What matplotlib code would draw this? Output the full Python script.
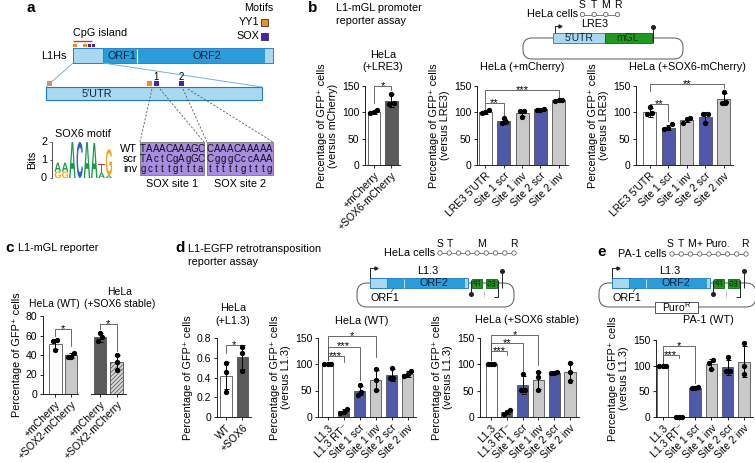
import numpy as np
import matplotlib
matplotlib.use('Agg')
import matplotlib.pyplot as plt
from matplotlib.patches import Rectangle, FancyBboxPatch, Circle, PathPatch
from matplotlib.textpath import TextPath
from matplotlib.font_manager import FontProperties
from matplotlib.path import Path

plt.rcParams['font.family'] = ['Liberation Sans', 'DejaVu Sans']
plt.rcParams['hatch.linewidth'] = 0.5
plt.rcParams['axes.linewidth'] = 0.6

# ---- colours
WHITE, DGRAY, LGRAY, BLUE = '#ffffff', '#5a5a5a', '#c9c9c9', '#5059a9'
L1BLUE, L1LIGHT, L1EDGE = '#2a9dd8', '#a9d9f1', '#1f78c8'
ORANGE, PURPLE, SEQBOX, GREEN = '#f28c1e', '#4a1fb8', '#a98de3', '#1f9a1f'

# ---- data
constructs = ['LRE3 5\u2032UTR', 'Site 1 scr', 'Site 1 inv', 'Site 2 scr', 'Site 2 inv']
l13_constructs = ['L1.3', 'L1.3 RT\u207b', 'Site 1 scr', 'Site 1 inv', 'Site 2 scr', 'Site 2 inv']

b1_labels = ['+mCherry', '+SOX6-mCherry']
b1_mean = [100, 122]
b1_sd = [3, 12]
b1_pts = [[98, 104, 100], [135, 118, 116]]

b2_mean = [100, 83, 99, 106, 123]
b2_sd = [3, 5, 6, 2, 1.5]
b2_pts = [[104, 99, 100], [90, 79, 81], [103, 103, 91], [107, 105, 105], [124, 124, 122]]

b3_mean = [100, 71, 85, 91, 125]
b3_sd = [8, 5, 4, 9, 12]
b3_pts = [[111, 97, 98], [77, 70, 68], [89, 87, 80], [96, 97, 80], [139, 119, 117]]

c_labels = ['+mCherry', '+SOX2-mCherry']
c1_mean = [51.5, 39.5]
c1_sd = [5, 2.5]
c1_pts = [[55, 54, 45], [42, 38, 38]]
c2_mean = [58, 33]
c2_sd = [5, 7]
c2_pts = [[63, 58, 54], [40, 33, 25]]

d1_labels = ['WT', '+SOX6']
d1_mean = [0.42, 0.61]
d1_sd = [0.14, 0.12]
d1_pts = [[0.55, 0.46, 0.25], [0.71, 0.65, 0.47]]

d2_mean = [100, 11, 50, 70, 79, 81]
d2_sd = [0, 4, 9, 19, 11, 5]
d2_pts = [[100, 100, 100], [16, 10, 8], [60, 48, 42], [90, 70, 51], [92, 73, 73], [87, 81, 77]]

d3_mean = [100, 10, 61, 70, 84, 86]
d3_sd = [0, 4, 17, 16, 2, 16]
d3_pts = [[100, 100, 100], [14, 10, 6], [81, 52, 51], [85, 76, 52], [85, 84, 83], [102, 86, 68]]

e_mean = [100, 0, 57, 103, 97, 108]
e_sd = [0, 0, 1.5, 10, 15, 31]
e_pts = [[100, 100, 100], [0, 0, 0], [59, 57, 56], [112, 106, 93], [116, 90, 90], [145, 99, 83]]

site_rows = ['WT', 'scr', 'inv']
site1_seq = ['TAAACAAAGC', 'TActCgAgGC', 'gctttgttta']
site2_seq = ['CAAACAAAAA', 'CgggCccAAA', 'tttttgtttg']

# SOX6 motif logo, bits per letter bottom -> top
logo = [[('G', 0.35), ('A', 0.5)], [('G', 0.35), ('A', 0.5)], [('A', 2.0)], [('C', 2.0)],
        [('A', 2.0)], [('A', 1.95)], [('A', 0.3), ('T', 0.5)], [('A', 0.15), ('G', 1.45)]]
logo_col = {'A': '#1a9a4a', 'C': '#2a62c8', 'G': '#f4a622', 'T': '#e0303c'}

W, H = 755, 463
fig = plt.figure(figsize=(W / 100, H / 100), dpi=100)
ov = fig.add_axes([0, 0, 1, 1])
ov.set_xlim(0, W)
ov.set_ylim(H, 0)
ov.axis('off')


def txt(x, y, s, size=7.8, ha='center', **kw):
    ov.text(x, y, s, fontsize=size, ha=ha, va='center', **kw)


def box(x0, y0, x1, y1, fc, ec='none', lw=0.6, **kw):
    ov.add_patch(Rectangle((x0, y0), x1 - x0, y1 - y0, fc=fc, ec=ec, lw=lw, **kw))


def line(xs, ys, **kw):
    kw.setdefault('color', '#555555')
    kw.setdefault('lw', 0.7)
    ov.plot(xs, ys, solid_capstyle='butt', **kw)


GFP = FontProperties(family='Liberation Sans', weight='bold')


def glyph(s, x0, x1, ybot, ytop, color, mirror=False):
    tp = TextPath((0, 0), s, size=10, prop=GFP)
    v = tp.vertices
    mn, mx = v.min(0), v.max(0)
    nx = (v[:, 0] - mn[0]) / (mx[0] - mn[0])
    if mirror:
        nx = 1 - nx
    ny = (v[:, 1] - mn[1]) / (mx[1] - mn[1])
    nv = np.column_stack([x0 + nx * (x1 - x0), ybot - ny * (ybot - ytop)])
    ov.add_patch(PathPatch(Path(nv, tp.codes), fc=color, ec='none', lw=0))


def chain(x0, x1, y, n):
    xs = np.linspace(x0, x1, n)
    line([x0, x1], [y, y], color='#666666', lw=0.6)
    for xx in xs:
        ov.add_patch(Circle((xx, y), 2.2, fc='white', ec='#666666', lw=0.6, zorder=3))


def dodge(vals, thr):
    vals = np.asarray(vals, float)
    order = np.argsort(vals)
    offs = np.zeros(len(vals))
    groups, cur = [], [order[0]]
    for a, b in zip(order[:-1], order[1:]):
        if vals[b] - vals[a] < thr:
            cur.append(b)
        else:
            groups.append(cur)
            cur = [b]
    groups.append(cur)
    for g in groups:
        if len(g) == 3:
            offs[g] = [-0.2, 0, 0.2]
        elif len(g) == 2:
            offs[g] = [-0.12, 0.12]
    return offs


def panel(rect, labels, mean, sd, pts, colors, ylim, yticks, ylabel=None, xlim=None,
          width=0.7, brackets=(), hatches=None, ytl=None, left=True):
    x0, y0, x1, y1 = rect
    ax = fig.add_axes([x0 / W, 1 - y1 / H, (x1 - x0) / W, (y1 - y0) / H])
    n = len(labels)
    x = np.arange(n)
    bars = ax.bar(x, mean, width=width, color=colors, edgecolor='#505050', linewidth=0.6, zorder=1)
    if hatches:
        for b, h in zip(bars, hatches):
            if h:
                b.set_hatch(h)
    ax.errorbar(x, mean, yerr=sd, fmt='none', ecolor='black', elinewidth=0.7,
                capsize=1.8, capthick=0.7, zorder=3, clip_on=False)
    for i, p in enumerate(pts):
        ax.plot(x[i] + dodge(p, 0.06 * ylim[1]), p, 'o', ms=2.8, color='black',
                zorder=4, clip_on=False)
    for i, j, y, yl, yr, s in brackets:
        ax.plot([i, i, j, j], [yl, y, y, yr], color='#505050', lw=0.6, clip_on=False)
        ax.annotate(s, ((i + j) / 2, y), xytext=(0, -2.2), textcoords='offset points',
                    ha='center', va='baseline', fontsize=8, annotation_clip=False)
    ax.set_xlim(xlim if xlim else (-0.55, n - 0.5))
    ax.set_ylim(ylim)
    ax.set_yticks(yticks)
    if ytl:
        ax.set_yticklabels(ytl)
    ax.set_xticks(x)
    ax.set_xticklabels(labels, rotation=45, ha='right', rotation_mode='anchor')
    ax.tick_params(labelsize=7.5, length=2.5, width=0.6, pad=1.5)
    ax.spines[['top', 'right']].set_visible(False)
    if not left:
        ax.spines['left'].set_visible(False)
        ax.set_yticks([])
    ax.patch.set_alpha(0)
    if ylabel:
        ax.set_ylabel(ylabel, fontsize=7.8, labelpad=3, linespacing=1.15)
    return ax


GFPLAB = 'Percentage of GFP\u207a cells'

# ================= panel a
txt(31, 8, 'a', size=11, weight='bold')
txt(273, 8, 'Motifs', ha='right')
txt(259, 22, 'YY1', ha='right')
box(261, 18.5, 268, 25.5, ORANGE, '#333333')
txt(259, 36, 'SOX', ha='right')
box(261, 32.5, 268, 39.5, PURPLE, '#333333')
txt(73, 33, 'CpG island', ha='left')
line([73, 92], [40.5, 40.5], color='#d03a2a', lw=1.0)
box(73, 43.5, 77, 47, ORANGE)
box(83, 43.5, 87, 47, ORANGE)
box(87.5, 43.5, 91, 47, PURPLE)
box(91.5, 43.5, 95, 47, PURPLE)
txt(66, 56, 'L1Hs', ha='right')
box(73, 48, 273, 63, L1BLUE, L1EDGE)
box(73, 48, 103, 63, L1LIGHT, L1EDGE)
box(265, 48.5, 272.5, 62.5, L1LIGHT)
line([137, 137], [48.5, 62.5], color='white', lw=0.8)
txt(122, 56, 'ORF1', color='#0c2240')
txt(207, 56, 'ORF2', color='#0c2240')
line([73, 46], [63, 87], color='#6ab4e8', lw=0.7)
line([103, 262], [63, 87], color='#6ab4e8', lw=0.7)
box(46, 87, 262, 100, L1LIGHT, L1EDGE, lw=0.8)
txt(97, 94, '5\u2032UTR', color='#0c2240')
box(47, 81, 52, 86, ORANGE)
box(147, 81, 152, 86, ORANGE)
box(154, 81, 159, 86, PURPLE)
box(179, 81, 184, 86, PURPLE)
txt(156.5, 76.5, '1', size=7)
txt(181.5, 76.5, '2', size=7)
for xa, xb in [(152, 140), (160, 204), (183, 207), (188, 273)]:
    line([xa, xb], [89, 142], color='#555555', lw=0.6, ls=(0, (2.5, 2)))

for bx0, bx1, seqs, name in [(140, 204, site1_seq, 'SOX site 1'), (207, 273, site2_seq, 'SOX site 2')]:
    box(bx0, 142, bx1, 175, SEQBOX, '#777777')
    cw = (bx1 - bx0) / 10
    for r, sq in enumerate(seqs):
        for k, ch in enumerate(sq):
            txt(bx0 + cw * (k + 0.5), 148.5 + r * 10.3, ch, size=7, color='#111111')
    txt((bx0 + bx1) / 2, 184, name)
for r, lab in enumerate(site_rows):
    txt(137, 148.5 + r * 10.3, lab, ha='right')

# motif logo
txt(83, 134, 'SOX6 motif')
txt(32, 160, 'Bits', rotation=90)
line([52, 52], [142, 178], color='#333333', lw=0.6)
for b in range(3):
    yy = 178 - 18 * b
    line([49.5, 52], [yy, yy], color='#333333', lw=0.6)
    txt(47, yy, str(b), ha='right')
cx = 54.0
cwid = 7.3
for col in logo:
    base = 178.0
    for ch, bits in col:
        top = base - bits * 18
        glyph(ch, cx + 0.3, cx + cwid - 0.3, base, top, logo_col[ch])
        base = top
    cx += cwid

# ================= panel b
txt(313, 8, 'b', size=11, weight='bold')
txt(336, 8, 'L1-mGL promoter', ha='left')
txt(336, 21, 'reporter assay', ha='left')
txt(578, 14, 'HeLa cells', ha='right')
chain(582.5, 617.5, 14.5, 4)
for lx, ch in zip(np.linspace(582.5, 617.5, 4), 'STMR'):
    txt(lx, 5, ch, size=7.5)
txt(595, 24, 'LRE3')
ov.add_patch(FancyBboxPatch((523, 38), 160, 21, boxstyle='round,pad=0,rounding_size=9',
                            fc='none', ec='#555555', lw=0.7))
box(553, 33, 605, 43, L1LIGHT, L1EDGE)
box(605, 33, 652, 43, GREEN, '#156015')
txt(579, 38, '5\u2032UTR', size=7.5, color='#0c2240')
txt(628, 38, 'mGL', size=7.5, color='#0c3a0c')
line([555, 555, 559], [33, 26, 26], color='#222222', lw=0.7)
ov.plot(560, 26, '>', ms=2.2, color='#222222')
line([653, 653], [43, 27], color='#222222', lw=0.7)
ov.plot(653, 27, 'o', ms=2.6, color='#222222')

txt(383, 55, 'HeLa')
txt(383, 67, '(+LRE3)')
txt(522, 67, 'HeLa (+mCherry)')
txt(687, 67, 'HeLa (+SOX6-mCherry)')

panel((365, 86, 400, 165), b1_labels, b1_mean, b1_sd, b1_pts, [WHITE, DGRAY], (0, 150),
      [0, 50, 100, 150], GFPLAB + '\n(versus mCherry)', xlim=(-0.51, 1.49),
      brackets=[(0, 1, 150, 118, 143, '*')])
bcol = [WHITE, BLUE, LGRAY, BLUE, LGRAY]
panel((477, 86, 568, 165), constructs, b2_mean, b2_sd, b2_pts, bcol, (0, 150),
      [0, 50, 100, 150], GFPLAB + '\n(versus LRE3)', xlim=(-0.46, 4.5),
      brackets=[(0, 1, 118, 106, 93, '**'), (0, 4, 142, 120, 128, '***')])
panel((636, 86, 733, 165), constructs, b3_mean, b3_sd, b3_pts, bcol, (0, 150),
      [0, 50, 100, 150], GFPLAB + '\n(versus LRE3)', xlim=(-0.73, 4.49),
      brackets=[(0, 1, 116, 111, 84, '**'), (0, 4, 154, 140, 146, '**')])

# ================= panel c
txt(10, 248, 'c', size=11, weight='bold')
txt(18, 248, 'L1-mGL reporter', ha='left')
txt(54, 304, 'HeLa (WT)', size=7.5)
txt(120, 292, 'HeLa', size=7.5)
txt(120, 304, '(+SOX6 stable)', size=7.5)
panel((43, 316, 78, 394), c_labels, c1_mean, c1_sd, c1_pts, [WHITE, LGRAY], (0, 80),
      [0, 20, 40, 60, 80], GFPLAB, xlim=(-0.78, 1.45), width=0.8,
      brackets=[(0, 1, 67, 59, 49, '*')])
panel((91, 316, 126, 394), c_labels, c2_mean, c2_sd, c2_pts, [DGRAY, '#d4d4d4'], (0, 80),
      [0, 20, 40, 60, 80], None, xlim=(-0.55, 1.57), width=0.75, left=False,
      hatches=[None, '////////'], brackets=[(0, 1, 72, 67, 44, '*')])

# ================= panel d
txt(180, 248, 'd', size=11, weight='bold')
txt(188, 249, 'L1-EGFP retrotransposition', ha='left')
txt(188, 262, 'reporter assay', ha='left')


def l1_plasmid(x0, puro=False):
    ov.add_patch(FancyBboxPatch((x0 - 13, 283), 157, 24, boxstyle='round,pad=0,rounding_size=10',
                                fc='none', ec='#555555', lw=0.7))
    box(x0, 278, x0 + 98, 288, L1BLUE, L1EDGE)
    box(x0, 278, x0 + 17, 288, L1LIGHT, L1EDGE)
    box(x0 + 95, 278.5, x0 + 97.5, 287.5, L1LIGHT)
    line([x0 + 34, x0 + 34], [278.5, 287.5], color='#bfe3f7', lw=0.7)
    txt(x0 + 58, 271.5, 'L1.3')
    txt(x0 + 64, 283, 'ORF2', color='#0c2240')
    txt(x0 + 15, 298, 'ORF1')
    line([x0 + 24, x0 + 21], [288, 292], color='#333333', lw=0.5)
    box(x0 + 102, 279, x0 + 112, 288, GREEN, '#156015')
    box(x0 + 116, 279, x0 + 127, 288, GREEN, '#156015')
    glyph('FP', x0 + 103.5, x0 + 110.5, 286.5, 280.5, '#0b2e0b', mirror=True)
    glyph('EG', x0 + 117.5, x0 + 125.5, 286.5, 280.5, '#0b2e0b', mirror=True)
    line([x0 + 132, x0 + 132], [288, 271], color='#222222', lw=0.7)
    ov.plot(x0 + 132, 271, 'o', ms=2.6, color='#222222')
    line([x0 + 101, x0 + 101], [280, 294], color='#222222', lw=0.7)
    ov.plot(x0 + 101, 294, 'o', ms=2.6, color='#222222')
    line([x0 + 113.5, x0 + 113.5], [291, 297], color='#555555', lw=0.5, ls=(0, (1, 1)))
    line([x0 + 128, x0 + 128, x0 + 124], [280, 297, 297], color='#222222', lw=0.7)
    line([x0, x0, x0 + 5], [278, 268, 268], color='#222222', lw=0.7)
    ov.plot(x0 + 5.5, 268, '>', ms=2.2, color='#222222')
    if puro:
        box(x0 + 43, 302, x0 + 86, 313, 'white', '#555555', lw=0.7)
        txt(x0 + 64.5, 307.5, 'Puro$^{\\mathregular{R}}$', size=7.5)


txt(435, 253, 'HeLa cells', ha='right')
chain(440, 514, 253, 9)
for lx, ch in [(440, 'S'), (449.5, 'T'), (481.5, 'M'), (514, 'R')]:
    txt(lx, 244, ch, size=7.5)
l1_plasmid(370)

txt(233, 308, 'HeLa')
txt(233, 320.5, '(+L1.3)')
txt(362, 320.5, 'HeLa (WT)')
txt(527, 320, 'HeLa (+SOX6 stable)')

dcol = [WHITE, DGRAY, BLUE, LGRAY, BLUE, LGRAY]
panel((217, 338, 251, 417), d1_labels, d1_mean, d1_sd, d1_pts, [WHITE, DGRAY], (0, 0.8),
      [0, 0.2, 0.4, 0.6, 0.8], GFPLAB, xlim=(-0.55, 1.52), ytl=['0', '0.2', '0.4', '0.6', '0.8'],
      brackets=[(0, 1, 0.73, 0.645, 0.705, '*')])
panel((318, 337.5, 416, 417), l13_constructs, d2_mean, d2_sd, d2_pts, dcol, (0, 150),
      [0, 50, 100, 150], GFPLAB + '\n(versus L1.3)', xlim=(-0.6, 5.53),
      brackets=[(0, 1, 115, 107, 104, '***'), (0, 2, 133, 107, 70, '***'),
                (0, 3, 153, 107, 114, '*')])
panel((480, 338, 579, 417), l13_constructs, d3_mean, d3_sd, d3_pts, dcol, (0, 150),
      [0, 50, 100, 150], GFPLAB + '\n(versus L1.3)', xlim=(-0.7, 5.57),
      brackets=[(0, 1, 125, 109, 118, '***'), (0, 2, 140, 109, 86, '**'),
                (0, 3, 156, 109, 99, '*')])

# ================= panel e
txt(602, 252, 'e', size=11, weight='bold')
txt(667, 254, 'PA-1 cells', ha='right')
chain(672, 746, 254, 9)
for lx, ch in [(670, 'S'), (681, 'T'), (692, 'M'), (700, '+'), (717.5, 'Puro.'), (745, 'R')]:
    txt(lx, 244, ch, size=7.5)
l1_plasmid(612, puro=True)
txt(708, 320, 'PA-1 (WT)')
panel((656, 340, 753, 417), l13_constructs, e_mean, e_sd, e_pts, dcol, (0, 150),
      [0, 50, 100, 150], GFPLAB + '\n(versus L1.3)', xlim=(-0.4, 5.55),
      brackets=[(0, 1, 121, 106, 114, '***'), (0, 2, 139, 106, 66, '*')])

fig.savefig('out.png', dpi=100)
